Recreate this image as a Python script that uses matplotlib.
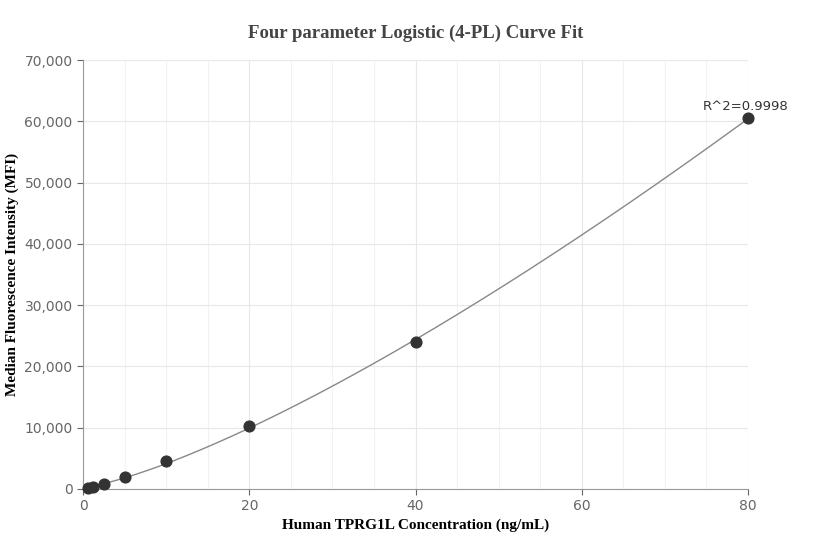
import numpy as np
import matplotlib
matplotlib.use("Agg")
import matplotlib.pyplot as plt

conc = [0.625, 1.25, 2.5, 5, 10, 20, 40, 80]
mfi = [100, 250, 800, 2000, 4600, 10200, 24000, 60500]
xticks = [0, 20, 40, 60, 80]
yticks = [0, 10000, 20000, 30000, 40000, 50000, 60000, 70000]
r2_label = "R^2=0.9998"

x = np.array(conc, float); y = np.array(mfi, float)
best = None
for b in np.linspace(0.8, 2.5, 60):
    for c in np.logspace(1, 4, 80):
        g = 1.0 / (1 + (x / c) ** b)
        A = np.vstack([g, 1 - g]).T
        coef, *_ = np.linalg.lstsq(A, y, rcond=None)
        err = np.sum((A @ coef - y) ** 2)
        if best is None or err < best[0]:
            best = (err, b, c, coef)
_, b, c, (a, d) = best
xs = np.linspace(0.625, 80, 400)
ys = d + (a - d) / (1 + (xs / c) ** b)

fig = plt.figure(figsize=(8.32, 5.6), dpi=100)
ax = fig.add_axes([83/832, 1-489/560, (748-83)/832, (489-60)/560])
ax.plot(xs, ys, color="#888888", lw=1)
ax.scatter(conc, mfi, s=60, color="#333333", zorder=3, clip_on=False)
ax.set_xlim(0, 80); ax.set_ylim(0, 70000)
ax.set_xticks(xticks); ax.set_yticks(yticks)
ax.set_yticklabels([f"{v:,}" for v in yticks])
ax.set_xticks(np.arange(0, 81, 5), minor=True)
ax.grid(True, which="major", color="#e6e6ee", lw=0.8)
ax.grid(True, which="minor", axis="x", color="#f2f2f6", lw=0.8)
ax.tick_params(which="minor", length=0)
ax.tick_params(colors="#666666", labelsize=10, length=4)
for s in ["top", "right"]:
    ax.spines[s].set_visible(False)
for s in ["left", "bottom"]:
    ax.spines[s].set_color("#999999")
ax.set_axisbelow(True)
ax.annotate(r2_label, (conc[-1], mfi[-1]), xytext=(-2, 4), textcoords="offset points",
            ha="center", va="bottom", fontsize=9.5, color="#333333")
serif = "Liberation Serif"
ax.set_xlabel("Human TPRG1L Concentration (ng/mL)", fontfamily=serif, fontweight="bold", fontsize=11)
ax.set_ylabel("Median Fluorescence Intensity (MFI)", fontfamily=serif, fontweight="bold", fontsize=11)
fig.text(416/832, 1-33/560, "Four parameter Logistic (4-PL) Curve Fit", ha="center", va="center",
         fontfamily=serif, fontweight="bold", fontsize=13.5, color="#444444")
fig.savefig("out.png", dpi=100)
